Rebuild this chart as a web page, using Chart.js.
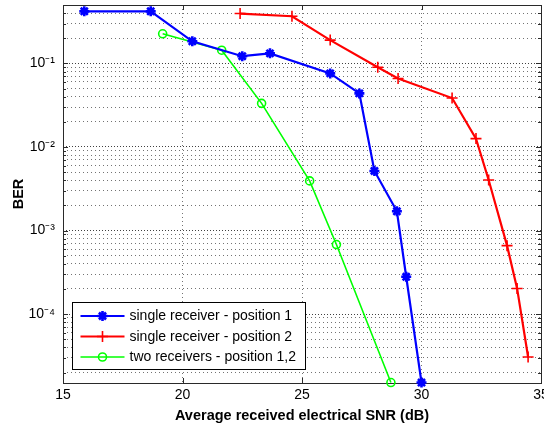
<!DOCTYPE html>
<html><head><meta charset="utf-8">
<script src="https://cdn.jsdelivr.net/npm/chart.js@4/dist/chart.umd.min.js"></script>
<style>html,body{margin:0;padding:0;background:#fff;} #wrap{width:544px;height:425px;position:relative;}</style>
</head><body><div id="wrap"><canvas id="c" width="544" height="425"></canvas></div>
<script>
// ---- data ----
const seriesNames = ['single receiver - position 1', 'single receiver - position 2', 'two receivers - position 1,2'];
const snr1 = [15.89, 18.67, 20.41, 22.50, 23.66, 26.18, 27.40, 28.03, 28.97, 29.36, 30.00];
const ber1 = [0.42, 0.42, 0.184, 0.122, 0.132, 0.076, 0.0438, 0.00517, 0.0017, 0.00028, 1.52e-5];
const snr2 = [22.41, 24.58, 26.18, 28.17, 29.02, 31.28, 32.28, 32.81, 33.58, 34.00, 34.46];
const ber2 = [0.395, 0.367, 0.19, 0.09, 0.066, 0.0385, 0.0126, 0.00403, 0.00066, 0.000203, 3.07e-5];
const snr3 = [19.17, 21.64, 23.31, 25.32, 26.44, 28.72];
const ber3 = [0.226, 0.144, 0.0333, 0.00393, 0.00068, 1.52e-5];
const xTickValues = [15, 20, 25, 30, 35];
const yDecades = [1e-5, 1e-4, 1e-3, 1e-2, 1e-1];
const yDecadeLabels = ['10⁻⁵', '10⁻⁴', '10⁻³', '10⁻²', '10⁻¹'];
const yMantissas = [1, 2, 3, 4, 5, 6, 7, 8, 9];
const xRange = [15, 35];
const yRange = [1.5e-5, 0.5];
const xTitle = 'Average received electrical SNR (dB)';
const yTitle = 'BER';

const FONT = "'Liberation Sans', Arial, Helvetica, sans-serif";
Chart.defaults.font.family = FONT;
Chart.defaults.color = '#000';

function pts(xs, ys) { return xs.map((x, i) => ({ x: x, y: ys[i] })); }
function decadeIndex(v) {
  for (let i = 0; i < yDecades.length; i++) if (Math.abs(v / yDecades[i] - 1) < 1e-6) return i;
  return -1;
}
const ZERO_PAD = function () { return { left: 0, top: 0, right: 0, bottom: 0 }; };

const colors = ['#0000ff', '#ff0000', '#00ff00'];
const datasets = [
  { label: seriesNames[0], data: pts(snr1, ber1), borderColor: colors[0], backgroundColor: colors[0],
    borderWidth: 2.2, pointStyle: 'star', pointRadius: 5, pointBorderWidth: 2.6, pointBackgroundColor: colors[0] },
  { label: seriesNames[1], data: pts(snr2, ber2), borderColor: colors[1], backgroundColor: colors[1],
    borderWidth: 2.2, pointStyle: 'cross', pointRadius: 5.5, pointBorderWidth: 1.6, pointBackgroundColor: colors[1] },
  { label: seriesNames[2], data: pts(snr3, ber3), borderColor: colors[2], backgroundColor: 'rgba(0,0,0,0)',
    borderWidth: 1.6, pointStyle: 'circle', pointRadius: 4, pointBorderWidth: 1.6, pointBackgroundColor: 'rgba(0,0,0,0)' }
];
datasets.forEach(d => { d.tension = 0; d.clip = false; d.fill = false; d.pointHoverRadius = d.pointRadius; });

const framePlugin = {
  id: 'frame',
  beforeDatasetsDraw(chart) {
    const ctx = chart.ctx, a = chart.chartArea;
    const xs = chart.scales.x, ys = chart.scales.y;
    ctx.save();
    ctx.strokeStyle = '#2a2a2a';
    ctx.lineWidth = 1;
    ctx.setLineDash([]);
    ctx.beginPath();
    xs.ticks.forEach(t => {
      const px = Math.round(xs.getPixelForValue(t.value)) + 0.5;
      ctx.moveTo(px, a.bottom); ctx.lineTo(px, a.bottom - 5);
      ctx.moveTo(px, a.top); ctx.lineTo(px, a.top + 5);
    });
    ys.ticks.forEach(t => {
      const py = Math.round(ys.getPixelForValue(t.value)) + 0.5;
      const len = decadeIndex(t.value) >= 0 ? 5 : 3;
      ctx.moveTo(a.left, py); ctx.lineTo(a.left + len, py);
      ctx.moveTo(a.right, py); ctx.lineTo(a.right - len, py);
    });
    ctx.stroke();
    ctx.strokeRect(Math.round(a.left) + 0.5, Math.round(a.top) + 0.5,
      Math.round(a.right - a.left), Math.round(a.bottom - a.top));
    ctx.restore();
  },
  afterDatasetsDraw(chart) {
    const ctx = chart.ctx, a = chart.chartArea;
    const bx = Math.round(a.left + 9) + 0.5, by = Math.round(a.bottom - 81) + 0.5;
    const bw = 233, bh = 67;
    ctx.save();
    ctx.fillStyle = '#fff';
    ctx.fillRect(bx, by, bw, bh);
    ctx.strokeStyle = '#000';
    ctx.lineWidth = 1;
    ctx.strokeRect(bx, by, bw, bh);
    ctx.font = '14px ' + FONT;
    ctx.textBaseline = 'middle';
    ctx.textAlign = 'left';
    chart.data.datasets.forEach((d, i) => {
      const y = by + 13.5 + i * 20.5;
      ctx.strokeStyle = d.borderColor;
      ctx.lineWidth = d.borderWidth;
      ctx.setLineDash([]);
      ctx.beginPath();
      ctx.moveTo(bx + 8, y); ctx.lineTo(bx + 52, y);
      ctx.stroke();
      ctx.fillStyle = d.pointBackgroundColor;
      ctx.lineWidth = d.pointBorderWidth;
      Chart.helpers.drawPoint(ctx, {
        pointStyle: d.pointStyle, radius: d.pointRadius, rotation: 0,
        borderWidth: d.pointBorderWidth
      }, bx + 30, y);
      ctx.fillStyle = '#000';
      ctx.fillText(d.label, bx + 57, y + 0.5);
    });
    ctx.restore();
  }
};

new Chart(document.getElementById('c'), {
  type: 'line',
  data: { datasets: datasets },
  options: {
    responsive: false,
    animation: false,
    events: [],
    layout: { autoPadding: false, padding: { left: 0, top: 5, right: 3, bottom: 0 } },
    plugins: { legend: { display: false }, tooltip: { enabled: false } },
    scales: {
      x: {
        type: 'linear', min: xRange[0], max: xRange[1],
        afterBuildTicks(s) { s.ticks = xTickValues.map(v => ({ value: v })); },
        afterFit(s) { s.height = 42; s.paddingLeft = 0; s.paddingRight = 0; s.getPadding = ZERO_PAD; },
        ticks: { font: { size: 14 }, padding: 4, autoSkip: false, maxRotation: 0, color: '#000',
          callback: v => String(v) },
        grid: { drawTicks: false, color: 'rgba(0,0,0,0.55)', lineWidth: 1 },
        border: { display: false, dash: [1, 3] },
        title: { display: true, text: xTitle, font: { size: 14.5, weight: 'bold' }, padding: { top: 0, bottom: 0 }, color: '#000' }
      },
      y: {
        type: 'logarithmic', min: yRange[0], max: yRange[1],
        afterBuildTicks(s) {
          const t = [];
          yDecades.forEach(d => yMantissas.forEach(m => {
            const v = +(d * m).toPrecision(6);
            if (v >= yRange[0] - 1e-12 && v <= yRange[1] + 1e-12) t.push({ value: v });
          }));
          s.ticks = t;
        },
        afterFit(s) { s.width = 63; s.paddingTop = 0; s.paddingBottom = 0; s.getPadding = ZERO_PAD; },
        ticks: { font: { size: 14 }, padding: 8, autoSkip: false, color: '#000',
          callback: v => { const i = decadeIndex(v); return i >= 0 ? yDecadeLabels[i] : ''; } },
        grid: { drawTicks: false, lineWidth: 1,
          color: c => (c.tick && decadeIndex(c.tick.value) >= 0) ? 'rgba(0,0,0,0.75)' : 'rgba(0,0,0,0.55)' },
        border: { display: false,
          dash: c => (c.tick && decadeIndex(c.tick.value) >= 0) ? [1, 2] : [1, 3] },
        title: { display: true, text: yTitle, font: { size: 14.5, weight: 'bold' }, padding: { top: 10, bottom: 0 }, color: '#000' }
      }
    }
  },
  plugins: [framePlugin]
});
</script></body></html>
